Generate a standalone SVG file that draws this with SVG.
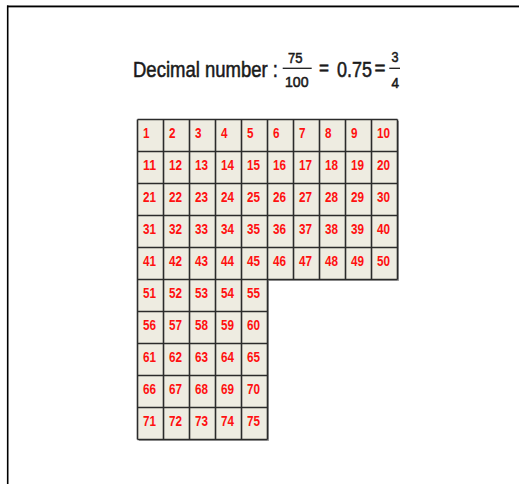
<svg xmlns="http://www.w3.org/2000/svg" width="519" height="484" viewBox="0 0 519 484">
<style>
.h{font-family:"Liberation Sans",Arial,sans-serif;fill:#1a1a1a;stroke:#1a1a1a;stroke-width:0.55}
.n{font-family:"Liberation Sans",Arial,sans-serif;font-size:15px;font-weight:bold;fill:#ff1010}
.g{fill:none;stroke:#2b2b2b;stroke-width:1.6}
</style>
<rect width="519" height="484" fill="#ffffff"/>
<g id="frame">
<line x1="7" y1="7.4" x2="519" y2="7.4" stroke="#9a9a9a" stroke-width="1"/>
<line x1="7" y1="6.2" x2="519" y2="6.2" stroke="#000" stroke-width="1.6"/>
<line x1="7.7" y1="5.5" x2="7.7" y2="484" stroke="#000" stroke-width="1.6"/>
</g>
<g id="title">
<text class="h" x="133" y="76.7" font-size="22.5" textLength="145" lengthAdjust="spacingAndGlyphs">Decimal number :</text>
<text class="h" x="288" y="62.7" font-size="15" textLength="14.5" lengthAdjust="spacingAndGlyphs">75</text>
<line x1="282.7" y1="68.3" x2="311.7" y2="68.3" stroke="#1a1a1a" stroke-width="1.3"/>
<text class="h" x="285" y="87.2" font-size="15" textLength="23.5" lengthAdjust="spacingAndGlyphs">100</text>
<text class="h" x="319" y="75" font-size="20" textLength="10" lengthAdjust="spacingAndGlyphs">=</text>
<text class="h" x="337" y="76.7" font-size="22.5" textLength="35" lengthAdjust="spacingAndGlyphs">0.75</text>
<text class="h" x="374.5" y="75" font-size="20" textLength="11" lengthAdjust="spacingAndGlyphs">=</text>
<text class="h" x="391.5" y="61.7" font-size="15" textLength="7" lengthAdjust="spacingAndGlyphs">3</text>
<line x1="389.3" y1="68.3" x2="400" y2="68.3" stroke="#1a1a1a" stroke-width="1.3"/>
<text class="h" x="391.5" y="87.5" font-size="15" textLength="7.5" lengthAdjust="spacingAndGlyphs">4</text>
</g>
<g id="grid">
<path d="M139 121H399V281H269V441H139Z" fill="#a8a8a8"/>
<path d="M137.5 119.5H397.5V279.5H267.5V439.5H137.5Z" fill="#eeece1"/>
<path class="g" d="M137.5 119.5H397.5M137.5 151.5H397.5M137.5 183.5H397.5M137.5 215.5H397.5M137.5 247.5H397.5M137.5 279.5H397.5M137.5 311.5H267.5M137.5 343.5H267.5M137.5 375.5H267.5M137.5 407.5H267.5M137.5 439.5H267.5M137.5 119.5V439.5M163.5 119.5V439.5M189.5 119.5V439.5M215.5 119.5V439.5M241.5 119.5V439.5M267.5 119.5V439.5M293.5 119.5V279.5M319.5 119.5V279.5M345.5 119.5V279.5M371.5 119.5V279.5M397.5 119.5V279.5"/>
</g>
<g id="numbers">
<text class="n" x="143" y="137.5" textLength="6.5" lengthAdjust="spacingAndGlyphs">1</text>
<text class="n" x="169" y="137.5" textLength="6.5" lengthAdjust="spacingAndGlyphs">2</text>
<text class="n" x="195" y="137.5" textLength="6.5" lengthAdjust="spacingAndGlyphs">3</text>
<text class="n" x="221" y="137.5" textLength="6.5" lengthAdjust="spacingAndGlyphs">4</text>
<text class="n" x="247" y="137.5" textLength="6.5" lengthAdjust="spacingAndGlyphs">5</text>
<text class="n" x="273" y="137.5" textLength="6.5" lengthAdjust="spacingAndGlyphs">6</text>
<text class="n" x="299" y="137.5" textLength="6.5" lengthAdjust="spacingAndGlyphs">7</text>
<text class="n" x="325" y="137.5" textLength="6.5" lengthAdjust="spacingAndGlyphs">8</text>
<text class="n" x="351" y="137.5" textLength="6.5" lengthAdjust="spacingAndGlyphs">9</text>
<text class="n" x="377" y="137.5" textLength="13" lengthAdjust="spacingAndGlyphs">10</text>
<text class="n" x="143" y="169.5" textLength="13" lengthAdjust="spacingAndGlyphs">11</text>
<text class="n" x="169" y="169.5" textLength="13" lengthAdjust="spacingAndGlyphs">12</text>
<text class="n" x="195" y="169.5" textLength="13" lengthAdjust="spacingAndGlyphs">13</text>
<text class="n" x="221" y="169.5" textLength="13" lengthAdjust="spacingAndGlyphs">14</text>
<text class="n" x="247" y="169.5" textLength="13" lengthAdjust="spacingAndGlyphs">15</text>
<text class="n" x="273" y="169.5" textLength="13" lengthAdjust="spacingAndGlyphs">16</text>
<text class="n" x="299" y="169.5" textLength="13" lengthAdjust="spacingAndGlyphs">17</text>
<text class="n" x="325" y="169.5" textLength="13" lengthAdjust="spacingAndGlyphs">18</text>
<text class="n" x="351" y="169.5" textLength="13" lengthAdjust="spacingAndGlyphs">19</text>
<text class="n" x="377" y="169.5" textLength="13" lengthAdjust="spacingAndGlyphs">20</text>
<text class="n" x="143" y="201.5" textLength="13" lengthAdjust="spacingAndGlyphs">21</text>
<text class="n" x="169" y="201.5" textLength="13" lengthAdjust="spacingAndGlyphs">22</text>
<text class="n" x="195" y="201.5" textLength="13" lengthAdjust="spacingAndGlyphs">23</text>
<text class="n" x="221" y="201.5" textLength="13" lengthAdjust="spacingAndGlyphs">24</text>
<text class="n" x="247" y="201.5" textLength="13" lengthAdjust="spacingAndGlyphs">25</text>
<text class="n" x="273" y="201.5" textLength="13" lengthAdjust="spacingAndGlyphs">26</text>
<text class="n" x="299" y="201.5" textLength="13" lengthAdjust="spacingAndGlyphs">27</text>
<text class="n" x="325" y="201.5" textLength="13" lengthAdjust="spacingAndGlyphs">28</text>
<text class="n" x="351" y="201.5" textLength="13" lengthAdjust="spacingAndGlyphs">29</text>
<text class="n" x="377" y="201.5" textLength="13" lengthAdjust="spacingAndGlyphs">30</text>
<text class="n" x="143" y="233.5" textLength="13" lengthAdjust="spacingAndGlyphs">31</text>
<text class="n" x="169" y="233.5" textLength="13" lengthAdjust="spacingAndGlyphs">32</text>
<text class="n" x="195" y="233.5" textLength="13" lengthAdjust="spacingAndGlyphs">33</text>
<text class="n" x="221" y="233.5" textLength="13" lengthAdjust="spacingAndGlyphs">34</text>
<text class="n" x="247" y="233.5" textLength="13" lengthAdjust="spacingAndGlyphs">35</text>
<text class="n" x="273" y="233.5" textLength="13" lengthAdjust="spacingAndGlyphs">36</text>
<text class="n" x="299" y="233.5" textLength="13" lengthAdjust="spacingAndGlyphs">37</text>
<text class="n" x="325" y="233.5" textLength="13" lengthAdjust="spacingAndGlyphs">38</text>
<text class="n" x="351" y="233.5" textLength="13" lengthAdjust="spacingAndGlyphs">39</text>
<text class="n" x="377" y="233.5" textLength="13" lengthAdjust="spacingAndGlyphs">40</text>
<text class="n" x="143" y="265.5" textLength="13" lengthAdjust="spacingAndGlyphs">41</text>
<text class="n" x="169" y="265.5" textLength="13" lengthAdjust="spacingAndGlyphs">42</text>
<text class="n" x="195" y="265.5" textLength="13" lengthAdjust="spacingAndGlyphs">43</text>
<text class="n" x="221" y="265.5" textLength="13" lengthAdjust="spacingAndGlyphs">44</text>
<text class="n" x="247" y="265.5" textLength="13" lengthAdjust="spacingAndGlyphs">45</text>
<text class="n" x="273" y="265.5" textLength="13" lengthAdjust="spacingAndGlyphs">46</text>
<text class="n" x="299" y="265.5" textLength="13" lengthAdjust="spacingAndGlyphs">47</text>
<text class="n" x="325" y="265.5" textLength="13" lengthAdjust="spacingAndGlyphs">48</text>
<text class="n" x="351" y="265.5" textLength="13" lengthAdjust="spacingAndGlyphs">49</text>
<text class="n" x="377" y="265.5" textLength="13" lengthAdjust="spacingAndGlyphs">50</text>
<text class="n" x="143" y="297.5" textLength="13" lengthAdjust="spacingAndGlyphs">51</text>
<text class="n" x="169" y="297.5" textLength="13" lengthAdjust="spacingAndGlyphs">52</text>
<text class="n" x="195" y="297.5" textLength="13" lengthAdjust="spacingAndGlyphs">53</text>
<text class="n" x="221" y="297.5" textLength="13" lengthAdjust="spacingAndGlyphs">54</text>
<text class="n" x="247" y="297.5" textLength="13" lengthAdjust="spacingAndGlyphs">55</text>
<text class="n" x="143" y="329.5" textLength="13" lengthAdjust="spacingAndGlyphs">56</text>
<text class="n" x="169" y="329.5" textLength="13" lengthAdjust="spacingAndGlyphs">57</text>
<text class="n" x="195" y="329.5" textLength="13" lengthAdjust="spacingAndGlyphs">58</text>
<text class="n" x="221" y="329.5" textLength="13" lengthAdjust="spacingAndGlyphs">59</text>
<text class="n" x="247" y="329.5" textLength="13" lengthAdjust="spacingAndGlyphs">60</text>
<text class="n" x="143" y="361.5" textLength="13" lengthAdjust="spacingAndGlyphs">61</text>
<text class="n" x="169" y="361.5" textLength="13" lengthAdjust="spacingAndGlyphs">62</text>
<text class="n" x="195" y="361.5" textLength="13" lengthAdjust="spacingAndGlyphs">63</text>
<text class="n" x="221" y="361.5" textLength="13" lengthAdjust="spacingAndGlyphs">64</text>
<text class="n" x="247" y="361.5" textLength="13" lengthAdjust="spacingAndGlyphs">65</text>
<text class="n" x="143" y="393.5" textLength="13" lengthAdjust="spacingAndGlyphs">66</text>
<text class="n" x="169" y="393.5" textLength="13" lengthAdjust="spacingAndGlyphs">67</text>
<text class="n" x="195" y="393.5" textLength="13" lengthAdjust="spacingAndGlyphs">68</text>
<text class="n" x="221" y="393.5" textLength="13" lengthAdjust="spacingAndGlyphs">69</text>
<text class="n" x="247" y="393.5" textLength="13" lengthAdjust="spacingAndGlyphs">70</text>
<text class="n" x="143" y="425.5" textLength="13" lengthAdjust="spacingAndGlyphs">71</text>
<text class="n" x="169" y="425.5" textLength="13" lengthAdjust="spacingAndGlyphs">72</text>
<text class="n" x="195" y="425.5" textLength="13" lengthAdjust="spacingAndGlyphs">73</text>
<text class="n" x="221" y="425.5" textLength="13" lengthAdjust="spacingAndGlyphs">74</text>
<text class="n" x="247" y="425.5" textLength="13" lengthAdjust="spacingAndGlyphs">75</text>
</g>
</svg>
